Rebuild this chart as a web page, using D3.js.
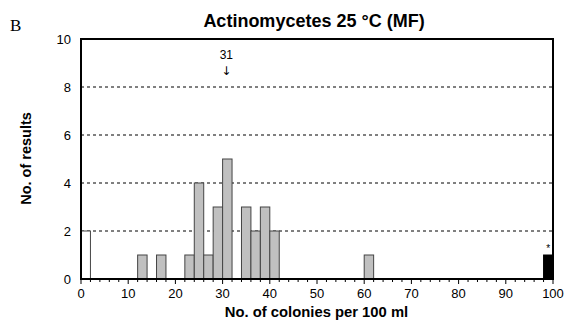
<!DOCTYPE html>
<html>
<head>
<meta charset="utf-8">
<script src="https://cdn.jsdelivr.net/npm/d3@7"></script>
<style>
  body { margin: 0; background: #fff; }
  svg { display: block; }
</style>
</head>
<body>
<svg id="chart" width="566" height="322"></svg>
<script>
// Histogram bins: lower edge of each 2-unit bin (colonies per 100 ml) and count
const binStart = [0, 12, 16, 22, 24, 26, 28, 30, 34, 36, 38, 40, 60, 98];
const binCount = [2, 1, 1, 1, 4, 1, 3, 5, 3, 2, 3, 2, 1, 1];
// bin kind: "low" = below detection, "ok" = regular result, "high" = above range
const binKind  = ["low", "ok", "ok", "ok", "ok", "ok", "ok", "ok", "ok", "ok", "ok", "ok", "ok", "high"];
const binWidth = 2;
const xTicks = [0, 10, 20, 30, 40, 50, 60, 70, 80, 90, 100];
const yTicks = [0, 2, 4, 6, 8, 10];
const gridLevels = [2, 4, 6, 8];
const markerValue = 31;

const svg = d3.select("#chart");
const m = { left: 81, right: 553, top: 39, bottom: 279 };
const sans = "Liberation Sans, Arial, sans-serif";

const x = d3.scaleLinear().domain([0, 100]).range([m.left, m.right]);
const y = d3.scaleLinear().domain([0, 10]).range([m.bottom, m.top]);

const fillFor = { low: "#ffffff", ok: "#c0c0c0", high: "#000000" };

// dashed gridlines
svg.append("g").selectAll("line").data(gridLevels).join("line")
  .attr("x1", m.left).attr("x2", m.right)
  .attr("y1", d => y(d)).attr("y2", d => y(d))
  .attr("stroke", "#000").attr("stroke-width", 1)
  .attr("stroke-dasharray", "3,3");

// bars
const bins = binStart.map((s, i) => ({ s, c: binCount[i], k: binKind[i] }));
svg.append("g").selectAll("rect").data(bins).join("rect")
  .attr("x", d => x(d.s))
  .attr("y", d => y(d.c))
  .attr("width", d => x(d.s + binWidth) - x(d.s))
  .attr("height", d => y(0) - y(d.c))
  .attr("fill", d => fillFor[d.k])
  .attr("stroke", d => d.k === "high" ? "#000" : "#444")
  .attr("stroke-width", 1);

// asterisk above the out-of-range bin
bins.filter(d => d.k === "high").forEach(d => {
  svg.append("text")
    .attr("x", x(d.s + binWidth / 2)).attr("y", y(d.c) - 3)
    .attr("text-anchor", "middle")
    .attr("font-family", sans)
    .attr("font-size", 10).text("*");
});

// x axis: major ticks every 10, minor every 2
const xMinor = d3.range(0, 101, 2);
svg.append("g").selectAll("line").data(xMinor).join("line")
  .attr("x1", d => x(d)).attr("x2", d => x(d))
  .attr("y1", m.bottom).attr("y2", d => m.bottom + (d % 10 === 0 ? 5 : 3))
  .attr("stroke", "#000").attr("stroke-width", 1);

svg.append("g").selectAll("text").data(xTicks).join("text")
  .attr("x", d => x(d)).attr("y", m.bottom + 19)
  .attr("text-anchor", "middle")
  .attr("font-family", sans)
  .attr("font-size", 13).text(d => d);

// y tick labels
svg.append("g").selectAll("text").data(yTicks).join("text")
  .attr("x", m.left - 10).attr("y", d => y(d) + 4.5)
  .attr("text-anchor", "end")
  .attr("font-family", sans)
  .attr("font-size", 13).text(d => d);

// frame
svg.append("rect")
  .attr("x", m.left).attr("y", m.top)
  .attr("width", m.right - m.left).attr("height", m.bottom - m.top)
  .attr("fill", "none").attr("stroke", "#000").attr("stroke-width", 2);

// assigned value marker
svg.append("text")
  .attr("x", x(markerValue) - 1).attr("y", 59)
  .attr("text-anchor", "middle")
  .attr("font-family", sans)
  .attr("font-size", 12).text(markerValue);
svg.append("text")
  .attr("x", x(markerValue) - 1).attr("y", 75)
  .attr("text-anchor", "middle")
  .attr("font-family", "DejaVu Sans, sans-serif")
  .attr("font-size", 12).text("\u2193");

// title
svg.append("text")
  .attr("x", 314).attr("y", 27)
  .attr("text-anchor", "middle")
  .attr("font-family", sans)
  .attr("font-weight", "bold").attr("font-size", 18)
  .text("Actinomycetes 25 °C (MF)");

// panel letter
svg.append("text")
  .attr("x", 10).attr("y", 31)
  .attr("font-family", "Liberation Serif, Times New Roman, serif")
  .attr("font-size", 17).text("B");

// axis titles
svg.append("text")
  .attr("x", 316.5).attr("y", 317)
  .attr("text-anchor", "middle")
  .attr("font-family", sans)
  .attr("font-weight", "bold").attr("font-size", 14.8)
  .text("No. of colonies per 100 ml");

svg.append("text")
  .attr("transform", "translate(31, 158.5) rotate(-90)")
  .attr("text-anchor", "middle")
  .attr("font-family", sans)
  .attr("font-weight", "bold").attr("font-size", 14.5)
  .text("No. of results");
</script>
</body>
</html>
